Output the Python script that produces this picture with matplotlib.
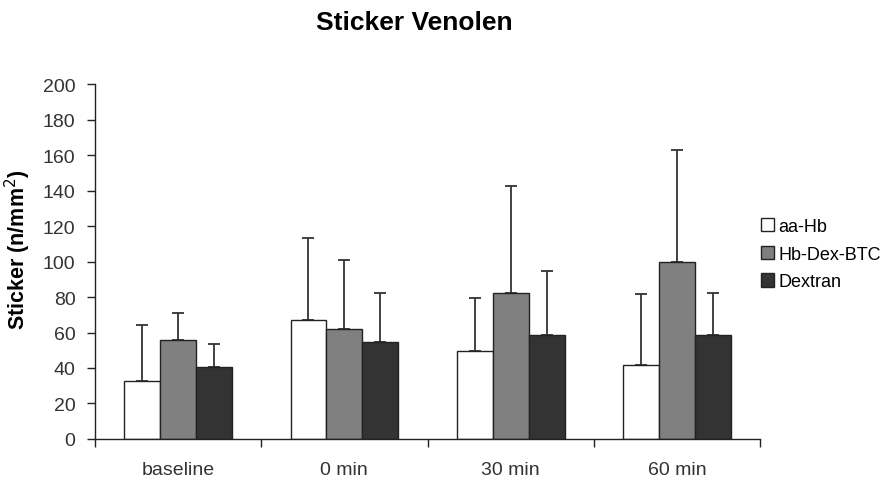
import numpy as np
import matplotlib.pyplot as plt

categories = ["baseline", "0 min", "30 min", "60 min"]
groups = ["aa-Hb", "Hb-Dex-BTC", "Dextran"]
aa_hb = [32.5, 67, 49.5, 41.5]
aa_hb_sd = [32, 46.5, 30, 40]
hb_dex = [56, 62, 82.5, 100]
hb_dex_sd = [15, 39, 60, 63]
dextran = [40.5, 54.5, 58.5, 58.5]
dextran_sd = [13, 28, 36, 24]
colors = ["white", "#808080", "#333333"]

plt.rcParams['font.family'] = ['Liberation Sans', 'DejaVu Sans']
plt.rcParams['font.size'] = 14

fig = plt.figure(figsize=(8.91, 4.85), dpi=100)
ax = fig.add_axes([0.1066, 0.0928, 0.7464, 0.7319])

x = np.arange(len(categories))
w = 0.216
series = [(aa_hb, aa_hb_sd), (hb_dex, hb_dex_sd), (dextran, dextran_sd)]
for i, (vals, sd) in enumerate(series):
    pos = x + (i - 1) * w
    ax.bar(pos, vals, w, color=colors[i], edgecolor="#222222", linewidth=1.0,
           label=groups[i], zorder=2)
    ax.errorbar(pos, vals, yerr=[np.zeros(len(sd)), sd], fmt="none",
                ecolor="#333333", elinewidth=1.3, capsize=4, capthick=1.3, zorder=1)

ax.set_xlim(-0.5, 3.5)
ax.set_ylim(0, 200)
ax.set_yticks(range(0, 201, 20))
ax.set_xticks(np.arange(-0.5, 3.6, 1.0))
ax.set_xticklabels([])
ax.set_xticks(x, minor=True)
ax.set_xticklabels(categories, minor=True)
ax.tick_params(axis="x", which="minor", length=0, pad=16, labelsize=14, labelcolor="#333333")
ax.tick_params(axis="x", which="major", length=6, width=1, direction="out", colors="#222222")
ax.tick_params(axis="y", length=6, width=1, pad=8, colors="#222222",
               labelcolor="#333333", labelsize=14)

for s in ["top", "right"]:
    ax.spines[s].set_visible(False)
for s in ["left", "bottom"]:
    ax.spines[s].set_color("#222222")
    ax.spines[s].set_linewidth(1.0)

ax.set_ylabel("Sticker (n/mm$^2$)", fontweight="bold", fontsize=15.5)
ax.yaxis.set_label_coords(-0.093, 0.535)
fig.text(0.465, 0.9526, "Sticker Venolen", fontweight="bold", fontsize=19,
         ha="center", va="center")

ax.legend(loc="center left", bbox_to_anchor=(0.99, 0.521), frameon=False,
          handlelength=0.75, handleheight=0.75, handletextpad=0.25, labelspacing=0.6,
          fontsize=13, borderaxespad=0)

plt.savefig("out.png", dpi=100)
